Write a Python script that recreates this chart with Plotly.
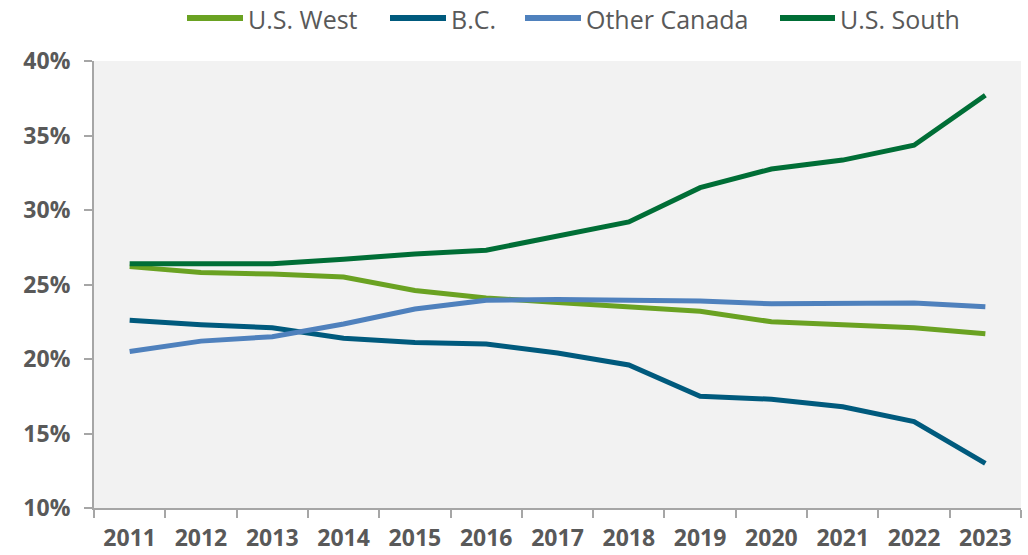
import plotly.graph_objects as go

years = [str(y) for y in range(2011, 2024)]
us_west = [26.2, 25.8, 25.7, 25.5, 24.6, 24.1, 23.8, 23.5, 23.2, 22.5, 22.3, 22.1, 21.7]
bc = [22.6, 22.3, 22.1, 21.4, 21.1, 21.0, 20.4, 19.6, 17.5, 17.3, 16.8, 15.8, 13.0]
other_canada = [20.5, 21.2, 21.5, 22.35, 23.35, 23.95, 24.0, 23.95, 23.9, 23.7, 23.7, 23.75, 23.5]
us_south = [26.4, 26.4, 26.4, 26.7, 27.05, 27.3, 28.25, 29.2, 31.5, 32.75, 33.35, 34.35, 37.7]

series = [
    ("U.S. West", us_west, "#6aa222"),
    ("B.C.", bc, "#005a7d"),
    ("Other Canada", other_canada, "#4f81bd"),
    ("U.S. South", us_south, "#006e36"),
]

W, H = 1028, 555
ML, MR, MT, MB = 94, 7, 61, 47
PW, PH = W - ML - MR, H - MT - MB


def px_x(p):
    return (p - ML) / PW


def px_y(p):
    return (H - MB - p) / PH


fig = go.Figure()
for name, vals, color in series:
    fig.add_trace(go.Scatter(
        x=years, y=[v / 100 for v in vals], name=name, mode="lines",
        line=dict(color=color, width=5), showlegend=False,
    ))

# Legend row across the top: swatch line followed by its label
legend_slots = [(187, 243), (390, 446), (525, 581), (780, 835)]
shapes, annotations = [], []
for (name, _, color), (x0, x1) in zip(series, legend_slots):
    shapes.append(dict(
        type="line", xref="paper", yref="paper",
        x0=px_x(x0), x1=px_x(x1), y0=px_y(18), y1=px_y(18),
        line=dict(color=color, width=6),
    ))
    annotations.append(dict(
        text=name, xref="paper", yref="paper", x=px_x(x1 + 3), y=px_y(19),
        xanchor="left", yanchor="middle", showarrow=False,
        font=dict(family="Open Sans", size=25, color="#595959"),
    ))

tick_font = dict(family="Open Sans", size=23, color="#595959", weight="bold")

fig.update_layout(
    width=W, height=H,
    margin=dict(l=ML, r=MR, t=MT, b=MB, autoexpand=False),
    paper_bgcolor="white",
    plot_bgcolor="#f2f2f2",
    shapes=shapes,
    annotations=annotations,
    xaxis=dict(
        type="category", showgrid=False, showline=True, linecolor="#a6a6a6", linewidth=2,
        ticks="outside", tickson="boundaries", ticklen=8, tickcolor="#a6a6a6", tickwidth=2,
        tickfont=tick_font, range=[-0.5, 12.5], ticklabelstandoff=8,
    ),
    yaxis=dict(
        range=[0.10, 0.40], dtick=0.05, tickformat=".0%", showgrid=False, zeroline=False,
        showline=True, linecolor="#a6a6a6", linewidth=2,
        ticks="outside", ticklen=8, tickcolor="#a6a6a6", tickwidth=2,
        tickfont=tick_font, ticklabelstandoff=9,
    ),
)

fig.write_html("out.html")
